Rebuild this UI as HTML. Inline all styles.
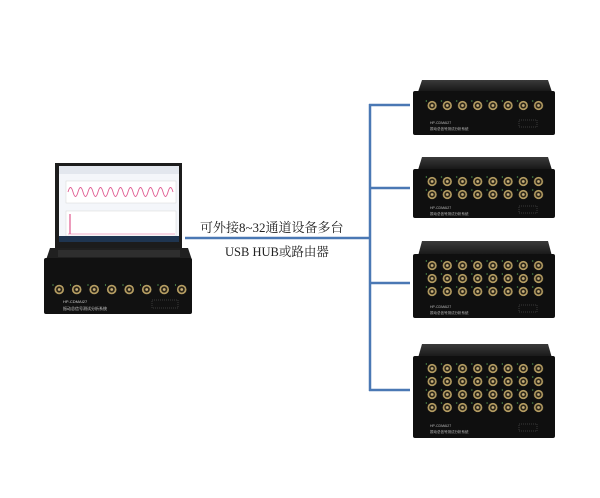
<!DOCTYPE html>
<html><head><meta charset="utf-8"><style>
html,body{margin:0;padding:0;background:#fff;width:600px;height:498px;overflow:hidden}
svg{display:block}
</style></head><body>
<svg width="600" height="498" viewBox="0 0 600 498" xmlns="http://www.w3.org/2000/svg">
<defs>
<g id="cn">
  <circle cx="7.6" cy="6.5" r="4.6" fill="#b59d62"/>
  <circle cx="7.6" cy="6.5" r="3" fill="#2a2418"/>
  <circle cx="7.6" cy="6.5" r="1.4" fill="#c9b07a"/>
  <circle cx="1.8" cy="2" r="0.6" fill="#6c6"/>
</g>
<pattern id="pA" x="424.5" y="99" width="15.2" height="13" patternUnits="userSpaceOnUse"><use href="#cn"/></pattern>
<pattern id="pB" x="424.5" y="175" width="15.2" height="13" patternUnits="userSpaceOnUse"><use href="#cn"/></pattern>
<pattern id="pC" x="424.5" y="259" width="15.2" height="13" patternUnits="userSpaceOnUse"><use href="#cn"/></pattern>
<pattern id="pD" x="424.5" y="362" width="15.2" height="13" patternUnits="userSpaceOnUse"><use href="#cn"/></pattern>
<pattern id="bnc2" x="50.5" y="283" width="17.5" height="13" patternUnits="userSpaceOnUse">
  <circle cx="8.7" cy="6.5" r="4.8" fill="#b59d62"/>
  <circle cx="8.7" cy="6.5" r="3.1" fill="#2a2418"/>
  <circle cx="8.7" cy="6.5" r="1.4" fill="#c9b07a"/>
  <circle cx="2.5" cy="2" r="0.6" fill="#6c6"/>
</pattern>
<linearGradient id="top" x1="0" y1="0" x2="0" y2="1"><stop offset="0" stop-color="#3a3a3a"/><stop offset="1" stop-color="#151515"/></linearGradient>
</defs>

<g stroke="#4a78b4" stroke-width="2.5" fill="none">
<line x1="185" y1="238" x2="371" y2="238"/>
<line x1="370" y1="104" x2="370" y2="391"/>
<line x1="369" y1="105" x2="410" y2="105"/>
<line x1="369" y1="188" x2="410" y2="188"/>
<line x1="369" y1="283" x2="410" y2="283"/>
<line x1="369" y1="390" x2="410" y2="390"/>
</g>

<text x="200" y="232" font-family="'Liberation Serif','Noto Serif CJK SC',serif" font-size="13" fill="#222">可外接8~32通道设备多台</text>
<text x="225" y="256" font-family="'Liberation Serif','Noto Serif CJK SC',serif" font-size="12.5" fill="#222">USB HUB或路由器</text>

<rect x="55" y="163" width="127" height="85" fill="#1c1c1c"/>
<rect x="59" y="166" width="120" height="76" fill="#f4f6fa"/>
<rect x="59" y="166" width="120" height="8" fill="#e3e7ee"/>
<rect x="66" y="181" width="110" height="22" fill="#fff" stroke="#ccc" stroke-width="0.4"/>
<path d="M68 192 q2.5-9 5 0 t5 0 t5 0 t5 0 t5 0 t5 0 t5 0 t5 0 t5 0 t5 0 t5 0 t5 0 t5 0 t5 0 t5 0 t5 0 t5 0 t5 0 t5 0 t5 0 t5 0" stroke="#e05a90" stroke-width="0.9" fill="none"/>
<rect x="66" y="211" width="110" height="25" fill="#fff" stroke="#ccc" stroke-width="0.4"/>
<line x1="70" y1="214" x2="70" y2="234" stroke="#e05a90" stroke-width="1.2"/>
<line x1="68" y1="234" x2="175" y2="234" stroke="#e05a90" stroke-width="0.5"/>
<rect x="59" y="236" width="120" height="6" fill="#1f3550"/>
<path d="M50 248 L188 248 L192 260 L46 260 Z" fill="#202020"/>
<rect x="58" y="250" width="122" height="7" fill="#2e2e2e"/>
<rect x="44" y="258" width="148" height="56" rx="2" fill="#111"/>
<rect x="50" y="283" width="140" height="13" fill="url(#bnc2)"/>
<text x="63" y="303" font-size="4" fill="#ccc" font-family="'Liberation Sans',sans-serif">HP-CDMAI27</text>
<text x="63" y="310" font-size="4" fill="#ccc" font-family="'Liberation Sans','Noto Sans CJK SC',sans-serif">振动总信号测试分析系统</text>
<rect x="152" y="300" width="26" height="8" fill="none" stroke="#777" stroke-width="0.4" stroke-dasharray="1 1"/>

<g>
<path d="M422 80 L548 80 L552 92 L418 92 Z" fill="url(#top)"/>
<rect x="413" y="91" width="142" height="44" rx="2" fill="#0f0f0f"/>
<rect x="424" y="99" width="122" height="13" fill="url(#pA)"/>
<text x="430" y="124" font-size="3.5" fill="#bbb" font-family="'Liberation Sans',sans-serif">HP-CDMAI27</text>
<text x="430" y="130" font-size="3.5" fill="#bbb" font-family="'Liberation Sans','Noto Sans CJK SC',sans-serif">振动总信号测试分析系统</text>
<rect x="519" y="120" width="18" height="7" fill="none" stroke="#777" stroke-width="0.4" stroke-dasharray="1 1"/>
</g>
<g>
<path d="M422 157 L548 157 L552 170 L418 170 Z" fill="url(#top)"/>
<rect x="413" y="169" width="142" height="49" rx="2" fill="#0f0f0f"/>
<rect x="424" y="175" width="122" height="26" fill="url(#pB)"/>
<text x="430" y="209" font-size="3.5" fill="#bbb" font-family="'Liberation Sans',sans-serif">HP-CDMAI27</text>
<text x="430" y="215" font-size="3.5" fill="#bbb" font-family="'Liberation Sans','Noto Sans CJK SC',sans-serif">振动总信号测试分析系统</text>
<rect x="519" y="206" width="18" height="7" fill="none" stroke="#777" stroke-width="0.4" stroke-dasharray="1 1"/>
</g>
<g>
<path d="M422 241 L548 241 L552 256 L418 256 Z" fill="url(#top)"/>
<rect x="413" y="254" width="142" height="64" rx="2" fill="#0f0f0f"/>
<rect x="424" y="259" width="122" height="39" fill="url(#pC)"/>
<text x="430" y="308" font-size="3.5" fill="#bbb" font-family="'Liberation Sans',sans-serif">HP-CDMAI27</text>
<text x="430" y="314" font-size="3.5" fill="#bbb" font-family="'Liberation Sans','Noto Sans CJK SC',sans-serif">振动总信号测试分析系统</text>
<rect x="519" y="305" width="18" height="7" fill="none" stroke="#777" stroke-width="0.4" stroke-dasharray="1 1"/>
</g>
<g>
<path d="M422 344 L548 344 L552 358 L418 358 Z" fill="url(#top)"/>
<rect x="413" y="356" width="142" height="82" rx="2" fill="#0f0f0f"/>
<rect x="424" y="362" width="122" height="52" fill="url(#pD)"/>
<text x="430" y="427" font-size="3.5" fill="#bbb" font-family="'Liberation Sans',sans-serif">HP-CDMAI27</text>
<text x="430" y="433" font-size="3.5" fill="#bbb" font-family="'Liberation Sans','Noto Sans CJK SC',sans-serif">振动总信号测试分析系统</text>
<rect x="519" y="424" width="18" height="7" fill="none" stroke="#777" stroke-width="0.4" stroke-dasharray="1 1"/>
</g>
</svg>
</body></html>
